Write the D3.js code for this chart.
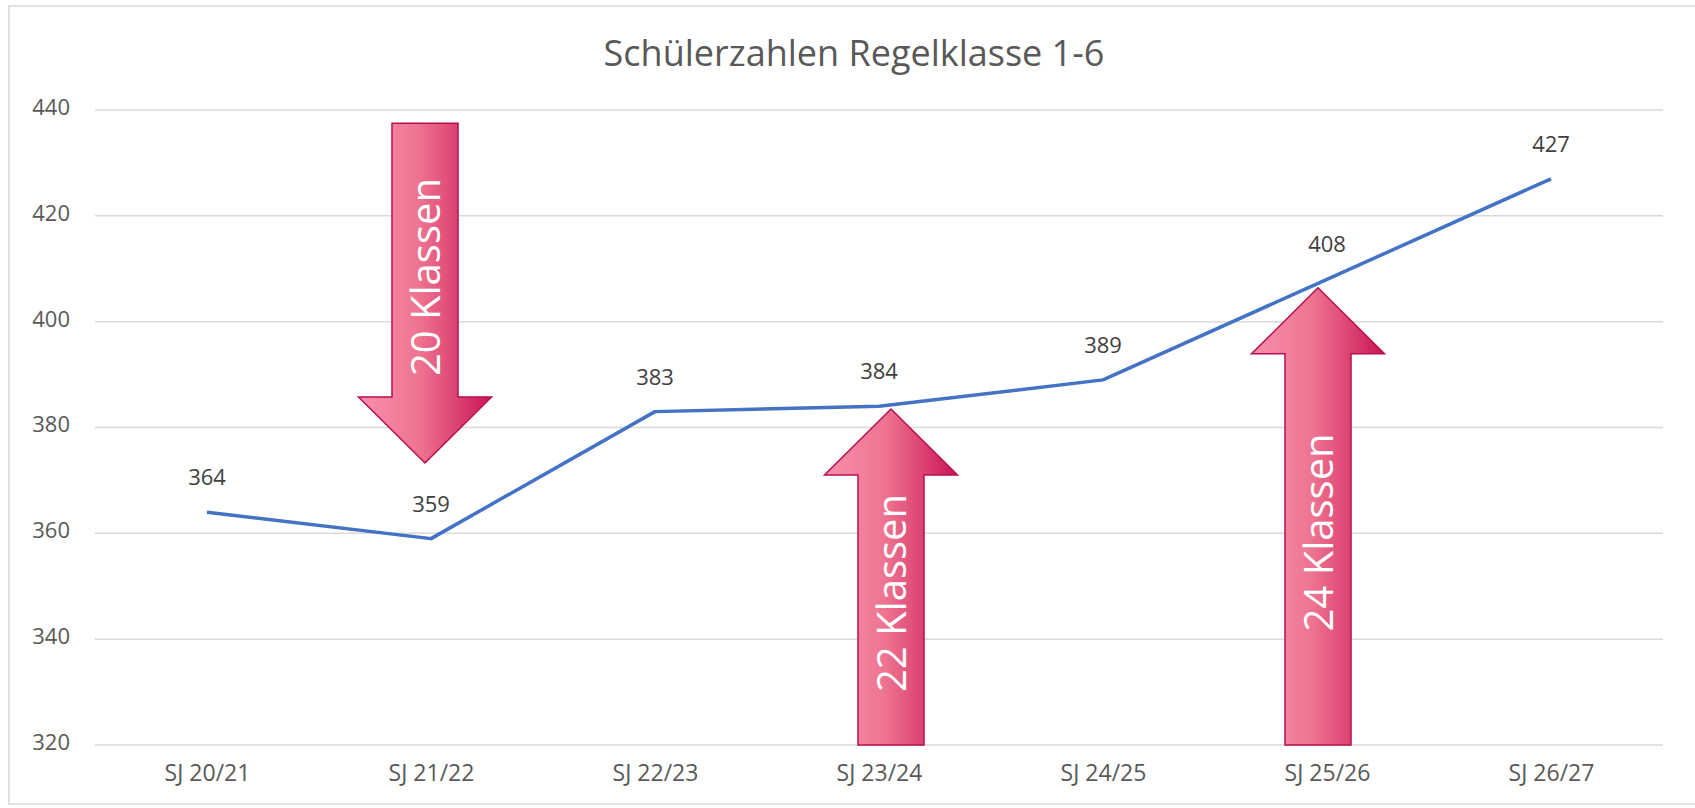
<!DOCTYPE html>
<html><head><meta charset="utf-8">
<script src="https://cdn.jsdelivr.net/npm/d3@7"></script>
<style>html,body{margin:0;padding:0;background:#fff;}svg{display:block;}</style>
</head><body>
<svg id="chart" width="1695" height="808"></svg>
<script>
const title = "Schülerzahlen Regelklasse 1-6";
const categories = ["SJ 20/21","SJ 21/22","SJ 22/23","SJ 23/24","SJ 24/25","SJ 25/26","SJ 26/27"];
const values = [364, 359, 383, 384, 389, 408, 427];
const yTicks = [320, 340, 360, 380, 400, 420, 440];
// annotation arrows: category, value at tip, value at base, direction, label
const arrowCats = ["SJ 21/22", "SJ 23/24", "SJ 25/26"];
const arrowTips = [373.3, 383.5, 406.4];
const arrowBases = [437.5, 320, 320];
const arrowDirs = ["down", "up", "up"];
const arrowLabels = ["20 Klassen", "22 Klassen", "24 Klassen"];
const arrowShift = [-6, 12, -9];

const W = 1695, H = 808;
const svg = d3.select("#chart");
const defs = svg.append("defs");
const grad = defs.append("linearGradient").attr("id","pinkGrad").attr("x1","0").attr("x2","1").attr("y1","0").attr("y2","0");
grad.append("stop").attr("offset","0%").attr("stop-color","#F98FAB");
grad.append("stop").attr("offset","45%").attr("stop-color","#EE7591");
grad.append("stop").attr("offset","100%").attr("stop-color","#CB1456");

// chart border
svg.append("rect").attr("x",9).attr("y",6).attr("width",W+20).attr("height",H-10)
  .attr("fill","none").attr("stroke","#D9D9D9").attr("stroke-width",1.5);

const x = d3.scalePoint().domain(categories).range([95,1663]).padding(0.5);
const y = d3.scaleLinear().domain([320,440]).range([745,110]);

// gridlines
svg.append("g").selectAll("line").data(yTicks).join("line")
  .attr("x1",95).attr("x2",1663).attr("y1",d=>y(d)).attr("y2",d=>y(d))
  .attr("stroke","#D9D9D9").attr("stroke-width",1.5);

// y axis labels
const yAxis = d3.axisLeft(y).tickValues(yTicks).tickSize(0).tickPadding(0);
const gy = svg.append("g").attr("transform","translate(70,0)").call(yAxis);
gy.select(".domain").remove();
gy.selectAll("text").attr("font-family","Open Sans").attr("font-size",22).attr("fill","#595959").attr("dy","0.2em");

// x axis labels
const xAxis = d3.axisBottom(x).tickSize(0).tickPadding(0);
const gx = svg.append("g").attr("transform","translate(0,765)").call(xAxis);
gx.select(".domain").remove();
gx.selectAll("text").attr("font-family","Open Sans").attr("font-size",23).attr("fill","#595959");

// title
svg.append("text").attr("x",854).attr("y",66).attr("text-anchor","middle")
  .attr("font-family","Open Sans").attr("font-size",36).attr("fill","#595959").text(title);

// line
const data = categories.map((c,i)=>({c, v: values[i]}));
svg.append("path").datum(data)
  .attr("d", d3.line().x(d=>x(d.c)).y(d=>y(d.v)))
  .attr("fill","none").attr("stroke","#4472C4").attr("stroke-width",3.5).attr("stroke-linejoin","round");

// data labels
svg.append("g").selectAll("text").data(data).join("text")
  .attr("x",d=>x(d.c)).attr("y",d=>y(d.v)-27).attr("text-anchor","middle")
  .attr("font-family","Open Sans").attr("font-size",22).attr("fill","#404040")
  .text(d=>d.v);

// arrows
const shaftW = 66, headW = 133, headH = 66;
arrowCats.forEach((c,i)=>{
  const cx = x(c) + arrowShift[i];
  const tipY = y(arrowTips[i]);
  const baseY = y(arrowBases[i]);
  const dir = arrowDirs[i] === "up" ? -1 : 1; // direction of tip relative to base
  const headBaseY = tipY - dir*headH;
  const pts = [
    [cx - shaftW/2, baseY],
    [cx - shaftW/2, headBaseY],
    [cx - headW/2, headBaseY],
    [cx, tipY],
    [cx + headW/2, headBaseY],
    [cx + shaftW/2, headBaseY],
    [cx + shaftW/2, baseY]
  ];
  svg.append("path").attr("d", d3.line()(pts) + "Z")
    .attr("fill","url(#pinkGrad)").attr("stroke","#B80F4E").attr("stroke-width",1.5)
    .attr("stroke-linejoin","miter");
  const midY = (tipY + baseY)/2 - dir*16;
  svg.append("text")
    .attr("transform", `translate(${cx+15},${midY}) rotate(-90)`)
    .attr("text-anchor","middle")
    .attr("font-family","Open Sans").attr("font-size",40).attr("fill","#ffffff")
    .text(arrowLabels[i]);
});
</script>
</body></html>
